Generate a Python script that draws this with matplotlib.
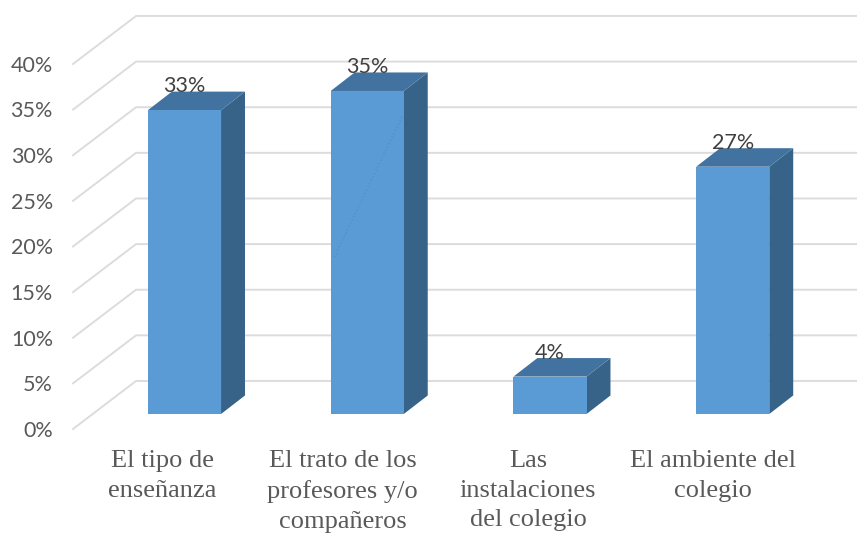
import matplotlib
matplotlib.use("Agg")
import matplotlib.pyplot as plt
from matplotlib.patches import Polygon

categories = ["El tipo de\nenseñanza",
              "El trato de los\nprofesores y/o\ncompañeros",
              "Las\ninstalaciones\ndel colegio",
              "El ambiente del\ncolegio"]
values = [33.3, 35.4, 4.1, 27.1]
value_labels = ["33%", "35%", "4%", "27%"]
ticks = [0, 5, 10, 15, 20, 25, 30, 35, 40]
tick_labels = ["0%", "5%", "10%", "15%", "20%", "25%", "30%", "35%", "40%"]
label_shift = [-0.12, -0.135, -0.12, -0.11]

# 3d look, in axis units
HALF_W = 0.2
DEPTH_X = 0.131
DEPTH_Y = 2.03
BACK_X = -0.265
FRONT_X = -0.61
BACK_Y = 3.62
FRONT_Y = -1.64
RIGHT_X = 3.68

FRONT_COL = "#5B9BD5"
TOP_COL = "#4273A0"
SIDE_COL = "#376389"
GRID_COL = "#DCDCDC"
TEXT_COL = "#595959"

fig = plt.figure(figsize=(8.57, 5.35), dpi=100)
ax = fig.add_axes([0, 0, 1, 1])
ax.set_xlim(-1.0096, 3.68)
ax.set_ylim(-13.26, 45.37)
ax.set_axis_off()

for t, lab in zip(ticks, tick_labels):
    # wall line and the diagonal on the floor side
    ax.plot([FRONT_X, BACK_X, RIGHT_X], [t + FRONT_Y, t + BACK_Y, t + BACK_Y],
            color=GRID_COL, lw=1.4, zorder=1, solid_joinstyle="miter")
    ax.text(-0.72, t + FRONT_Y - 0.2, lab, ha="right", va="center",
            family="Lato", fontsize=15.5, color=TEXT_COL)

for i, v in enumerate(values):
    l = i - HALF_W
    r = i + HALF_W
    ax.add_patch(Polygon([(r, 0), (r + DEPTH_X, DEPTH_Y), (r + DEPTH_X, v + DEPTH_Y), (r, v)],
                         facecolor=SIDE_COL, edgecolor="none", zorder=2))
    ax.add_patch(Polygon([(l, v), (r, v), (r + DEPTH_X, v + DEPTH_Y), (l + DEPTH_X, v + DEPTH_Y)],
                         facecolor=TOP_COL, edgecolor="none", zorder=2))
    ax.add_patch(Polygon([(l, 0), (r, 0), (r, v), (l, v)],
                         facecolor=FRONT_COL, edgecolor="none", zorder=3))
    ax.text(i, v + 2.6, value_labels[i], ha="center", va="center",
            family="Lato", fontsize=15.5, color="#404040", zorder=4)
    ax.text(i + label_shift[i], -3.92, categories[i], ha="center", va="top",
            family="Liberation Serif", fontsize=19, color=TEXT_COL, linespacing=1.46)

# faint dotted artefact on the second bar
ax.plot([0.82, 1.19], [17.2, 32.6], color="#4F8FCB", lw=1, ls=":", zorder=4)

fig.savefig("out.png", dpi=100)
